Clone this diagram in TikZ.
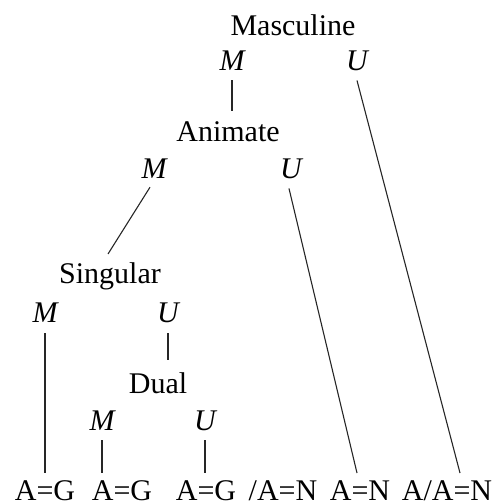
\documentclass[tikz,border=0pt]{standalone}
\usepackage{fontspec}
\setmainfont{Liberation Serif}
\usetikzlibrary{calc}
\begin{document}
\begin{tikzpicture}[x=1pt,y=-1pt,
  lbl/.style={inner sep=0pt,anchor=base,font=\fontsize{30}{36}\selectfont},
  mu/.style={lbl,font=\fontsize{30}{36}\selectfont\itshape},
  edge/.style={line width=1.1pt,draw=black!85}]
\useasboundingbox (0,0) rectangle (494,504);
% labels
\node[lbl] (masc) at (293,35) {Masculine};
\node[mu] (m1) at (232,70) {M};
\node[mu] (u1) at (357,70) {U};
\node[lbl] (anim) at (228,141) {Animate};
\node[mu] (m2) at (154,178) {M};
\node[mu] (u2) at (291,178) {U};
\node[lbl] (sing) at (110,283) {Singular};
\node[mu] (m3) at (45,322) {M};
\node[mu] (u3) at (168,322) {U};
\node[lbl] (dual) at (158,393) {Dual};
\node[mu] (m4) at (102,430) {M};
\node[mu] (u4) at (205,430) {U};
\node[lbl] (b1) at (45,500) {A=G};
\node[lbl] (b2) at (122,500) {A=G};
\node[lbl] (b3) at (206,500) {A=G};
\node[lbl] (b4) at (283,500) {/A=N};
\node[lbl] (b5) at (360,500) {A=N};
\node[lbl] (b6) at (447,500) {A/A=N};
% connectors
\draw[edge] ($(m1.south)+(0,10)$) -- ($(anim.north -| m1.south)+(0,-10)$);
\draw[edge] ($(u1.south)+(0,10)$) -- ($(b6.north)+(13,-7)$);
\draw[edge] ($(u2.south)+(-2,10)$) -- ($(b5.north)+(-3,-7)$);
\draw[edge] ($(m2.south)+(-4,9)$) -- ($(sing.north)+(-2,-8)$);
\draw[edge] ($(m3.south)+(0,11)$) -- ($(b1.north)+(0,-7)$);
\draw[edge] ($(u3.south)+(0,11)$) -- ($(dual.north -| u3.south)+(0,-12)$);
\draw[edge] ($(m4.south)+(0,10)$) -- ($(b2.north -| m4.south)+(0,-7)$);
\draw[edge] ($(u4.south)+(0,10)$) -- ($(b3.north -| u4.south)+(0,-7)$);
\end{tikzpicture}
\end{document}
